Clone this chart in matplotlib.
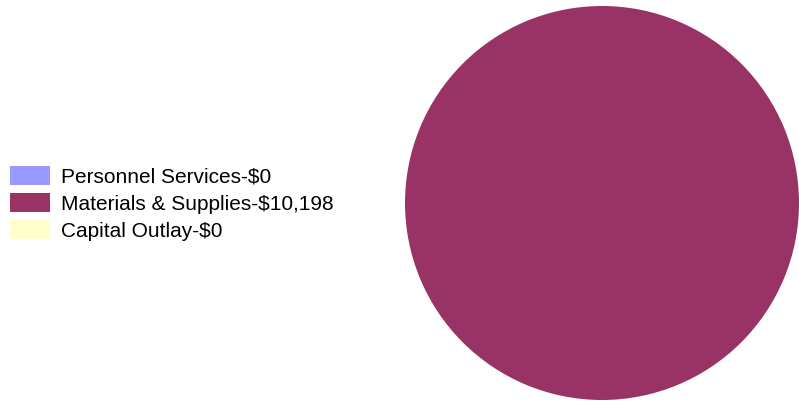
import matplotlib
matplotlib.use("Agg")
import matplotlib.pyplot as plt

plt.rcParams["font.family"] = ["Liberation Sans", "DejaVu Sans"]

categories = ["Personnel Services", "Materials & Supplies", "Capital Outlay"]
amounts = [0, 10198, 0]
colors = ["#9999FF", "#993366", "#FFFFCC"]

labels = [f"{c}-${v:,}" for c, v in zip(categories, amounts)]

W, H = 799, 403
fig = plt.figure(figsize=(W / 100, H / 100), dpi=100)
ax = fig.add_axes([405 / W, 3 / H, 394 / W, 394 / H])

wedges, _ = ax.pie(amounts, colors=colors, startangle=90, counterclock=False,
                   wedgeprops={"linewidth": 0})
ax.set_xlim(-1, 1)
ax.set_ylim(-1, 1)
ax.set_aspect("equal")
ax.axis("off")

fig.legend(wedges, labels, loc="upper left", bbox_to_anchor=(10 / W, 1 - 166 / H),
           frameon=False, fontsize=15, borderpad=0, borderaxespad=0,
           handlelength=1.92, handleheight=1.05, handletextpad=0.53, labelspacing=0.3)

fig.savefig("out.png", dpi=100)
